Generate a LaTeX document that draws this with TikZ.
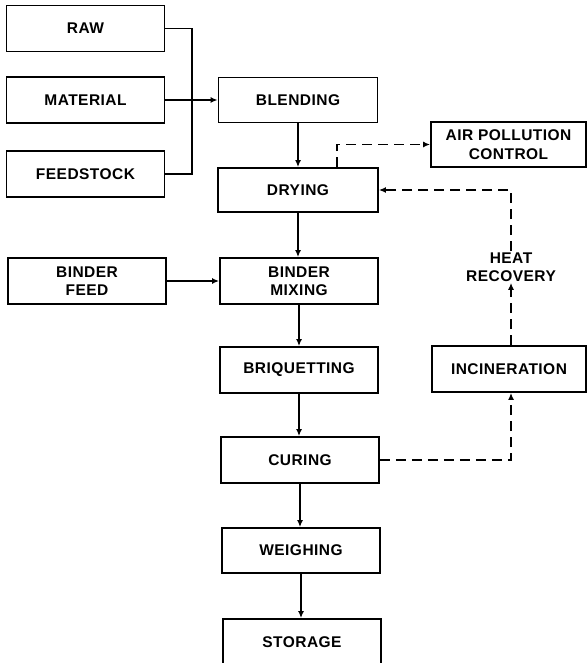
\documentclass[tikz,border=0pt]{standalone}
\usepackage{fontspec}
\newfontfamily\boxfont{Liberation Sans}[LetterSpace=3]
\usetikzlibrary{arrows.meta}
\begin{document}
\begin{tikzpicture}[x=1pt,y=-1pt,
  box/.style={draw,line width=1.8pt,rectangle,minimum width=158pt,minimum height=46pt,inner sep=0pt,align=center,
    font=\boxfont\bfseries\fontsize{15.5}{18.5}\selectfont},
  lbl/.style={align=center,inner sep=1pt,font=\boxfont\bfseries\fontsize{15.5}{18.5}\selectfont},
  flow/.style={line width=1.8pt,-{Latex[length=7pt,width=6pt]}},
  plain/.style={line width=1.8pt},
  dflow/.style={line width=1.8pt,dash pattern=on 10pt off 6pt,-{Latex[length=7pt,width=6pt]}},
  dplain/.style={line width=1.8pt,dash pattern=on 10pt off 6pt}]
\useasboundingbox (0,0) rectangle (587,663);
\fill[white] (0,0) rectangle (587,663);
% left inputs
\node[box] (raw) at (85.5,28.5) {RAW};
\node[box] (mat) at (85.5,100) {MATERIAL};
\node[box] (feed) at (85.5,174) {FEEDSTOCK};
\node[box] (bfeed) at (87,281) {BINDER\\FEED};
% main column
\node[box,minimum width=159pt,minimum height=45pt] (blend) at (298,100) {BLENDING};
\node[box,minimum width=160pt,minimum height=44pt] (dry) at (298,190) {DRYING};
\node[box] (bmix) at (299,281) {BINDER\\MIXING};
\node[box] (briq) at (299,370) {BRIQUETTING};
\node[box] (cure) at (300,460) {CURING};
\node[box,minimum height=45pt] (weigh) at (301,550.5) {WEIGHING};
\node[box] (stor) at (302,642) {STORAGE};
% right column
\node[box,minimum width=155pt,minimum height=45pt] (apc) at (508.5,144.5) {AIR POLLUTION\\CONTROL};
\node[box,minimum width=154pt] (inc) at (509,369) {INCINERATION};
\node[lbl] (heat) at (511,267) {HEAT\\RECOVERY};
% coordinates
\coordinate (j) at (192,100);
\coordinate (apcup) at (337,145);
\coordinate (hr) at (511,190);
% raw material merge
\draw[plain] (raw.east) -| (j);
\draw[plain] (feed.east) -| (j);
\draw[flow] (mat.east) -- (blend.west);
% main flow
\draw[flow] (blend.south) -- (blend.south |- dry.north);
\draw[flow] (dry.south) -- (dry.south |- bmix.north);
\draw[flow] (bfeed.east) -- (bmix.west);
\draw[flow] (bmix.south) -- (bmix.south |- briq.north);
\draw[flow] (briq.south) -- (briq.south |- cure.north);
\draw[flow] (cure.south) -- (cure.south |- weigh.north);
\draw[flow] (weigh.south) -- (weigh.south |- stor.north);
% dashed
\draw[dflow] (dry.north -| apcup) |- (apc.west);
\draw[dflow] (heat.north -| hr) |- (dry.east);
\draw[dflow] (inc.north -| hr) -- (heat.south -| hr);
\draw[dflow] (cure.east) -| (inc.south -| hr);
\end{tikzpicture}
\end{document}
